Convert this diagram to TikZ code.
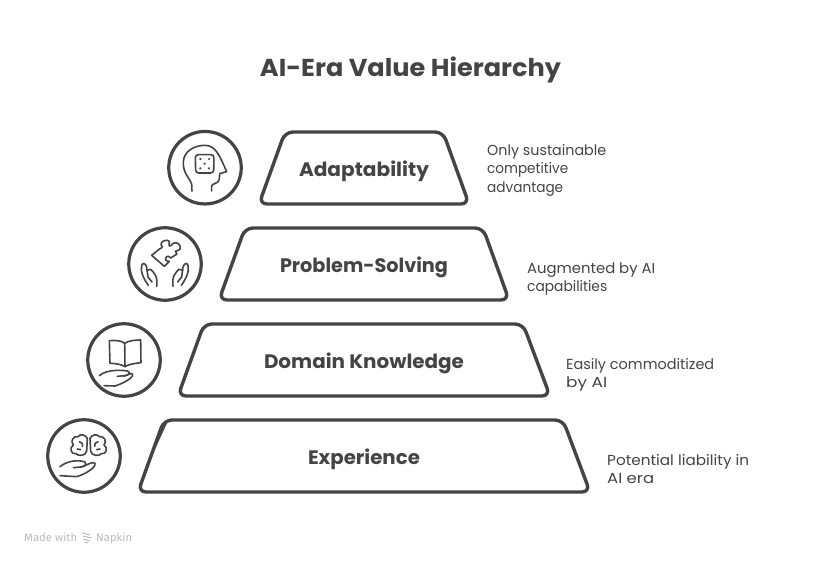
\documentclass[tikz,border=0pt]{standalone}
\usepackage{fontspec}
\setmainfont{Fira Sans}
\newfontfamily\handreg{Poppins}
\newfontfamily\handbold{Poppins}[BoldFont=* Bold]
\newcommand{\fitw}[2]{\resizebox{#1pt}{\height}{#2}}
\definecolor{ink}{HTML}{444444}
\definecolor{faint}{HTML}{BBBBBB}
\tikzset{
 trap/.style={draw=ink,line width=3.4pt,rounded corners=8pt,line join=round},
 ring/.style={circle,draw=ink,line width=3.2pt,minimum size=72.5pt,inner sep=0pt},
 glyph/.style={draw=ink,line width=1.6pt,line cap=round,line join=round},
 heading/.style={text=ink,font=\handbold\bfseries\fontsize{24.5}{25}\selectfont,anchor=base,inner sep=0pt},
 lvl/.style={text=ink,font=\handbold\bfseries\fontsize{19.5}{20}\selectfont,anchor=base,inner sep=0pt},
 note/.style={text=ink,font=\handreg\fontsize{14.5}{15}\selectfont,anchor=base west,inner sep=0pt},
 brand/.style={text=faint,font=\fontsize{11}{11}\selectfont,anchor=base west,inner sep=0pt},
 zoomA/.style={xshift=30pt,yshift=-120pt,x=.3333pt,y=-.3333pt},
 zoomB/.style={xshift=30pt,yshift=-310pt,x=.3333pt,y=-.3333pt},
 zoomC/.style={xshift=130pt,yshift=-232pt,x=.3333pt,y=-.3333pt},
 zoomD/.style={xshift=50pt,yshift=-425pt,x=.3333pt,y=-.3333pt},
}
\begin{document}
\begin{tikzpicture}[x=1pt,y=-1pt]
\useasboundingbox (0,0) rectangle (821,564);
\fill[white] (0,0) rectangle (821,564);
\node[heading] (title) at (410.5,76.5) {\fitw{301}{AI-Era Value Hierarchy}};
% trapezoids
\draw[trap] (285,132) -- (443,132) -- (469,204) -- (259,204) -- cycle;
\draw[trap] (245,228) -- (483,228) -- (509,300) -- (219,300) -- cycle;
\draw[trap] (204,324) -- (523,324) -- (550,396) -- (178,396) -- cycle;
\draw[trap] (164,420) -- (563,420) -- (590,492) -- (138,492) -- cycle;
\draw[ink,line width=2pt,line cap=round] (166,423) -- (154,449);
\node[lvl] (l1) at (364,176.5) {\fitw{130}{Adaptability}};
\node[lvl] (l2) at (364,272.5) {\fitw{168}{Problem-Solving}};
\node[lvl] (l3) at (364,368.5) {\fitw{200}{Domain Knowledge}};
\node[lvl] (l4) at (364,464.5) {\fitw{112}{Experience}};
% notes
\node[note] (n1a) at (487,156) {\fitw{119}{Only sustainable}};
\node[note] (n1b) at (487,174) {\fitw{81}{competitive}};
\node[note] (n1c) at (487,192) {\fitw{76}{advantage}};
\node[note] (n2a) at (527,273) {\fitw{128}{Augmented by AI}};
\node[note] (n2b) at (527,291) {\fitw{80}{capabilities}};
\node[note] (n3a) at (566,369) {\fitw{148}{Easily commoditized}};
\node[note] (n3b) at (566,387) {\fitw{41}{by AI}};
\node[note] (n4a) at (607,465) {\fitw{142}{Potential liability in}};
\node[note] (n4b) at (607,483) {\fitw{47}{AI era}};
% rings
\node[ring] (c1) at (205,167.7) {};
\node[ring] (c2) at (165,264) {};
\node[ring] (c3) at (124,360) {};
\node[ring] (c4) at (84,456) {};
% head + die
\begin{scope}[zoomA]
\draw[glyph] (486,213) -- (485,192) .. controls (480,175) and (458,160) .. (460,125)
  .. controls (462,92) and (495,76) .. (525,76)
  .. controls (558,76) and (570,110) .. (590,155) -- (569,161) -- (568,178)
  .. controls (566,192) and (545,190) .. (545,198) -- (545,213);
\draw[glyph,rounded corners=3pt] (496,104) -- (552,104) -- (551,159) -- (497,159) -- cycle;
\foreach \p in {(511,117),(537,117),(524,131),(511,145),(537,145)}
  \fill[ink] \p circle (1.2pt);
\end{scope}
% puzzle and hands
\begin{scope}[zoomC]
\draw[glyph] (65,70) -- (90,50)
  .. controls (100,48) and (96,40) .. (93,37)
  .. controls (92,28) and (112,20) .. (118,28)
  .. controls (120,34) and (114,38) .. (118,42)
  .. controls (122,44) and (124,38) .. (128,35)
  .. controls (138,26) and (156,38) .. (150,52)
  .. controls (146,58) and (138,54) .. (136,58)
  -- (141,66) -- (122,78)
  .. controls (116,68) and (104,74) .. (107,84)
  .. controls (110,90) and (116,86) .. (118,88)
  -- (103,103) -- cycle;
\draw[glyph] (55,160) .. controls (42,142) and (30,118) .. (35,100)
  .. controls (38,90) and (48,95) .. (50,106) -- (54,135) -- (66,150);
\draw[glyph] (51,115) -- (62,112) .. controls (72,122) and (84,132) .. (80,163);
\draw[glyph] (154,160) .. controls (167,142) and (179,118) .. (174,100)
  .. controls (171,90) and (161,95) .. (159,106) -- (155,135) -- (143,150);
\draw[glyph] (158,115) -- (147,112) .. controls (137,122) and (125,132) .. (129,163);
\end{scope}
% book + hand
\begin{scope}[zoomB]
\draw[glyph] (238,92) .. controls (255,90) and (275,92) .. (284,100)
  .. controls (295,92) and (315,90) .. (332,90) -- (333,158)
  .. controls (315,160) and (295,163) .. (285,170)
  .. controls (275,163) and (255,160) .. (240,160) -- cycle;
\draw[glyph] (284,100) -- (285,170);
\draw[glyph] (208,197) .. controls (225,182) and (260,178) .. (292,183)
  .. controls (304,187) and (296,196) .. (285,197) -- (262,199);
\draw[glyph] (282,198) .. controls (295,196) and (305,186) .. (308,193)
  .. controls (310,205) and (275,222) .. (255,228) -- (222,227);
\end{scope}
% brain + hand
\begin{scope}[zoomD]
\draw[glyph] (112,40) .. controls (106,28) and (90,26) .. (84,35)
  .. controls (70,32) and (60,48) .. (70,60)
  .. controls (56,68) and (64,90) .. (78,86)
  .. controls (84,94) and (108,94) .. (110,78) -- cycle;
\draw[glyph] (120,40) .. controls (126,28) and (142,26) .. (148,35)
  .. controls (162,32) and (172,48) .. (162,60)
  .. controls (176,68) and (168,90) .. (154,86)
  .. controls (148,94) and (124,94) .. (122,78) -- cycle;
\draw[glyph] (88,50) .. controls (96,52) and (100,58) .. (98,64);
\draw[glyph] (82,72) -- (92,74);
\draw[glyph] (144,50) .. controls (136,52) and (132,58) .. (134,64);
\draw[glyph] (150,72) -- (140,74);
\draw[glyph] (30,125) .. controls (50,108) and (85,103) .. (105,111)
  .. controls (112,118) and (102,126) .. (92,126) -- (70,128);
\draw[glyph] (92,126) .. controls (108,124) and (128,106) .. (135,115)
  .. controls (138,128) and (105,148) .. (80,155) -- (30,152);
\end{scope}
% watermark
\node[brand] (m1) at (24,541) {\fitw{53}{Made with}};
\node[brand] (m2) at (96,541) {\fitw{36}{Napkin}};
\draw[faint,line width=1pt] (82,533) -- (90,535) (83,536) -- (92,538) (83,539) -- (90,541) (85,542) -- (88,543);
\end{tikzpicture}
\end{document}
